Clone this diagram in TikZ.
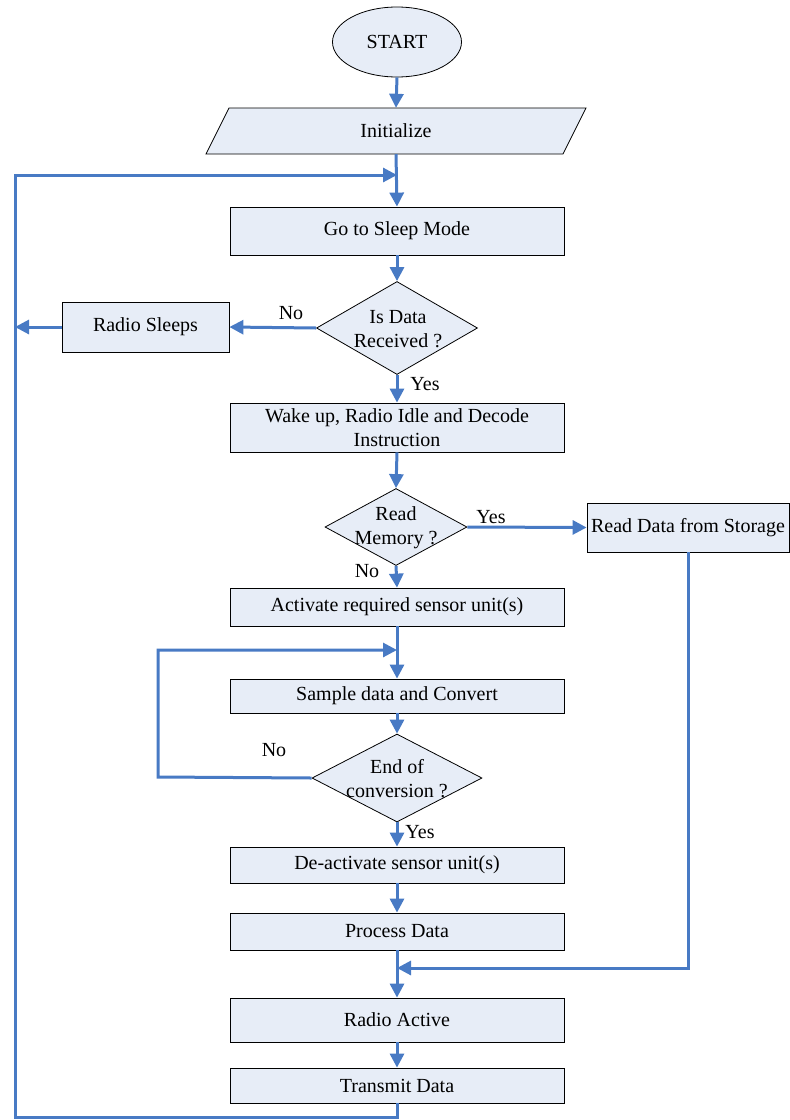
\documentclass[tikz,border=0pt]{standalone}
\usepackage{fontspec}
\setmainfont{Liberation Serif}
\usetikzlibrary{shapes.geometric,arrows.meta}

\definecolor{boxfill}{RGB}{231,237,247}
\definecolor{flowblue}{RGB}{72,122,196}

\begin{document}
\begin{tikzpicture}[x=1pt,y=-1pt,
  every node/.style={font=\fontsize{20}{24}\selectfont},
  proc/.style={draw=black,line width=0.8pt,fill=boxfill,rectangle,
    minimum width=334pt,inner sep=2pt,align=center},
  dec/.style={draw=black,line width=0.8pt,fill=boxfill,diamond,inner sep=0pt},
  flow/.style={draw=flowblue,line width=3pt,
    -{Triangle[length=14pt,width=14pt]}},
  lbl/.style={inner sep=1pt}]

\useasboundingbox (0,0) rectangle (790,1120);

% terminal
\node[draw=black,line width=0.8pt,fill=boxfill,ellipse,
  minimum width=129pt,minimum height=70pt] (start) at (397,42) {START};

% input parallelogram, drawn as a path with its text node on top
\draw[black,line width=0.8pt,fill=boxfill]
  (206,154) -- (229,108) -- (586,108) -- (563,154) -- cycle;
\node[minimum width=334pt,minimum height=46pt,inner sep=0pt] (init) at (396,131) {Initialize};

% main column
\node[proc,minimum height=48pt] (sleep) at (397,231) {Go to Sleep Mode};
\node[dec,minimum width=161pt,minimum height=93pt] (d1) at (397,328) {};
\node[align=center,inner sep=0pt] (d1t) at (398,329) {Is Data\\Received ?};
\node[proc,minimum width=167pt,minimum height=50pt] (rs) at (145.5,327) {Radio Sleeps};
\node[proc,minimum height=49pt] (wake) at (397,427.5)
  {Wake up, Radio Idle and Decode\\Instruction};
\node[dec,minimum width=142pt,minimum height=77pt] (d2) at (396,527) {};
\node[align=center,inner sep=0pt] (d2t) at (396,528) {Read\\Memory ?};
\node[proc,minimum width=202pt,minimum height=49pt,inner sep=1pt] (rds) at (688,527.5)
  {Read Data from Storage};
\node[proc,minimum height=38pt] (act) at (397,607) {Activate required sensor unit(s)};
\node[proc,minimum height=34pt] (samp) at (397,696) {Sample data and Convert};
\node[dec,minimum width=170pt,minimum height=88pt] (d3) at (397,778) {};
\node[align=center,inner sep=0pt] (d3t) at (397,779) {End of\\conversion ?};
\node[proc,minimum height=36pt] (deact) at (397,865) {De-activate sensor unit(s)};
\node[proc,minimum height=37pt] (proc) at (397,931.5) {Process Data};
\node[proc,minimum height=44pt] (ract) at (397,1020) {Radio Active};
\node[proc,minimum height=35pt] (tx) at (397,1085.5) {Transmit Data};

% branch labels
\node[lbl] (no1) at (291,313) {No};
\node[lbl] (yes1) at (425,384) {Yes};
\node[lbl] (yes2) at (491,517) {Yes};
\node[lbl] (no2) at (367,571) {No};
\node[lbl] (no3) at (274,750) {No};
\node[lbl] (yes3) at (420,832) {Yes};

% junction and corner points
\coordinate (j1) at (397,175);
\coordinate (j2) at (397,650);
\coordinate (j3) at (397,968);
\coordinate (c1) at (397,1117);
\coordinate (c2) at (15,1117);
\coordinate (c3) at (15,175);
\coordinate (c4) at (158,777);

% connectors
\draw[flow] (start.south) -- (init.north);
\draw[flow] (init.south) -- (sleep.north);
\draw[flow] (sleep.south) -- (d1.north);
\draw[flow] (d1.west) -- (rs.east);
\draw[flow] (rs.west) -- (rs.west -| c2);
\draw[flow] (d1.south) -- (wake.north);
\draw[flow] (wake.south) -- (d2.north);
\draw[flow] (d2.east) -- (rds.west);
\draw[flow] (d2.south) -- (act.north);
\draw[flow] (act.south) -- (samp.north);
\draw[flow] (samp.south) -- (d3.north);
\draw[flow] (d3.west) -- (c4) |- (j2);
\draw[flow] (d3.south) -- (deact.north);
\draw[flow] (deact.south) -- (proc.north);
\draw[flow] (proc.south) -- (ract.north);
\draw[flow] (rds.south) |- (j3);
\draw[flow] (ract.south) -- (tx.north);
\draw[flow] (tx.south) -- (c1) -- (c2) -- (c3) -- (j1);

\end{tikzpicture}
\end{document}
